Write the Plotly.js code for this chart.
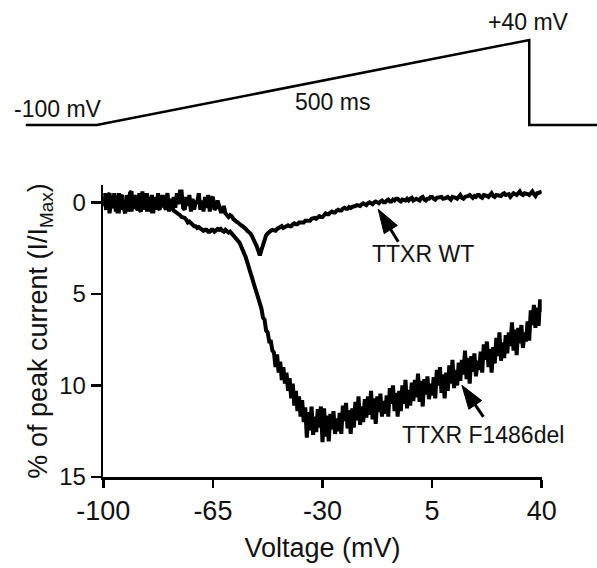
<!DOCTYPE html>
<html>
<head>
<meta charset="utf-8">
<script src="https://cdn.plot.ly/plotly-3.0.1.min.js"></script>
<style>html,body{margin:0;padding:0;background:#fff;}#chart{width:597px;height:568px;}</style>
</head>
<body>
<div id="chart"></div>
<script>
// Ramp protocol (time in ms, voltage in mV)
const protoTime = [-82, 0, 500, 500, 578.3];
const protoVoltage = [-100, -100, 40, -100, -100];

// Ramp voltage (mV) for the current traces, 0.5 mV steps
const voltage = [
-100,-99.5,-99,-98.5,-98,-97.5,-97,-96.5,-96,-95.5,
-95,-94.5,-94,-93.5,-93,-92.5,-92,-91.5,-91,-90.5,
-90,-89.5,-89,-88.5,-88,-87.5,-87,-86.5,-86,-85.5,
-85,-84.5,-84,-83.5,-83,-82.5,-82,-81.5,-81,-80.5,
-80,-79.5,-79,-78.5,-78,-77.5,-77,-76.5,-76,-75.5,
-75,-74.5,-74,-73.5,-73,-72.5,-72,-71.5,-71,-70.5,
-70,-69.5,-69,-68.5,-68,-67.5,-67,-66.5,-66,-65.5,
-65,-64.5,-64,-63.5,-63,-62.5,-62,-61.5,-61,-60.5,
-60,-59.5,-59,-58.5,-58,-57.5,-57,-56.5,-56,-55.5,
-55,-54.5,-54,-53.5,-53,-52.5,-52,-51.5,-51,-50.5,
-50,-49.5,-49,-48.5,-48,-47.5,-47,-46.5,-46,-45.5,
-45,-44.5,-44,-43.5,-43,-42.5,-42,-41.5,-41,-40.5,
-40,-39.5,-39,-38.5,-38,-37.5,-37,-36.5,-36,-35.5,
-35,-34.5,-34,-33.5,-33,-32.5,-32,-31.5,-31,-30.5,
-30,-29.5,-29,-28.5,-28,-27.5,-27,-26.5,-26,-25.5,
-25,-24.5,-24,-23.5,-23,-22.5,-22,-21.5,-21,-20.5,
-20,-19.5,-19,-18.5,-18,-17.5,-17,-16.5,-16,-15.5,
-15,-14.5,-14,-13.5,-13,-12.5,-12,-11.5,-11,-10.5,
-10,-9.5,-9,-8.5,-8,-7.5,-7,-6.5,-6,-5.5,
-5,-4.5,-4,-3.5,-3,-2.5,-2,-1.5,-1,-0.5,
0,0.5,1,1.5,2,2.5,3,3.5,4,4.5,
5,5.5,6,6.5,7,7.5,8,8.5,9,9.5,
10,10.5,11,11.5,12,12.5,13,13.5,14,14.5,
15,15.5,16,16.5,17,17.5,18,18.5,19,19.5,
20,20.5,21,21.5,22,22.5,23,23.5,24,24.5,
25,25.5,26,26.5,27,27.5,28,28.5,29,29.5,
30,30.5,31,31.5,32,32.5,33,33.5,34,34.5,
35,35.5,36,36.5,37,37.5,38,38.5,39,39.5,
40];

// TTXR WT, % of peak current (I/IMax)
const wtCurrent = [
0.2,-0.5,0.4,-0.3,0.6,-0.1,0.3,-0.5,0.5,-0.2,
-0.5,0.4,-0.1,0.3,0.6,-0.4,0.2,-0.3,0.5,0.0,
-0.4,0.3,0.4,-0.5,0.1,-0.6,0.4,-0.2,0.5,-0.3,
0.5,-0.4,0.2,-0.3,0.4,-0.5,0.3,0.0,-0.4,0.3,
0.0,-0.5,0.5,-0.2,0.4,-0.3,0.3,-0.5,0.1,-0.6,
-0.6,0.3,0.4,-0.3,0.2,-0.4,0.5,-0.2,0.4,0.0,
0.0,-0.5,0.4,-0.1,0.5,-0.3,0.3,-0.4,0.5,-0.2,
-0.3,0.4,0.3,-0.1,0.2,0.5,0.5,0.2,0.6,0.7,
0.8,0.7,0.75,0.9,1.0,1.05,1.1,1.2,1.25,1.3,
1.35,1.45,1.55,1.6,1.7,1.85,2.0,2.2,2.4,2.65,
2.9,2.6,2.3,2.0,1.8,1.7,1.6,1.55,1.5,1.55,
1.55,1.45,1.4,1.35,1.3,1.4,1.35,1.25,1.25,1.3,
1.3,1.2,1.15,1.2,1.2,1.1,1.1,1.15,1.1,1.0,
1.0,0.95,1.0,0.9,0.85,0.85,0.9,0.8,0.75,0.8,
0.8,0.7,0.6,0.65,0.65,0.55,0.5,0.55,0.55,0.45,
0.4,0.45,0.45,0.35,0.3,0.35,0.35,0.25,0.3,0.25,
0.25,0.2,0.15,0.2,0.2,0.1,0.05,0.1,0.15,0.05,
0.0,0.05,0.1,0.0,-0.05,0.0,0.05,-0.05,-0.1,0.0,
0.0,-0.1,-0.15,-0.05,-0.05,-0.15,-0.1,-0.2,-0.2,-0.1,
-0.05,-0.15,-0.15,-0.1,-0.2,-0.1,-0.2,-0.25,-0.1,-0.15,
-0.2,-0.15,-0.1,-0.25,-0.3,-0.15,-0.1,-0.2,-0.2,-0.3,
-0.3,-0.2,-0.15,-0.25,-0.25,-0.3,-0.3,-0.2,-0.2,-0.25,
-0.3,-0.2,-0.15,-0.3,-0.3,-0.25,-0.2,-0.35,-0.4,-0.25,
-0.2,-0.3,-0.3,-0.35,-0.4,-0.3,-0.25,-0.35,-0.3,-0.4,
-0.4,-0.3,-0.25,-0.4,-0.4,-0.35,-0.3,-0.45,-0.5,-0.35,
-0.3,-0.4,-0.4,-0.35,-0.35,-0.45,-0.5,-0.4,-0.4,-0.45,
-0.3,-0.45,-0.5,-0.45,-0.4,-0.5,-0.6,-0.45,-0.4,-0.5,
-0.5,-0.45,-0.4,-0.55,-0.6,-0.45,-0.35,-0.5,-0.5,-0.55,
-0.6];

// TTXR F1486del, % of peak current (I/IMax)
const mutCurrent = [
-0.3,0.2,0.4,-0.4,-0.5,0.1,0.3,-0.2,-0.1,0.5,
0.5,-0.3,-0.4,0.2,0.0,0.4,0.4,-0.5,-0.6,0.1,
0.3,-0.2,-0.3,0.4,0.5,-0.1,0.1,-0.4,-0.4,0.3,
0.3,0.5,0.5,-0.1,-0.2,0.3,0.4,-0.3,-0.3,0.2,
0.4,0.0,0.1,0.35,0.3,0.45,0.5,0.55,0.6,0.7,
0.8,0.8,0.85,0.95,1.1,1.05,1.15,1.25,1.3,1.3,
1.4,1.35,1.4,1.5,1.55,1.5,1.5,1.6,1.6,1.5,
1.5,1.6,1.55,1.45,1.5,1.45,1.55,1.6,1.5,1.6,
1.65,1.6,1.7,1.8,1.9,2.0,2.1,2.2,2.4,2.55,
2.8,3.0,3.3,3.5,3.8,4.1,4.4,4.6,4.9,5.2,
5.6,5.8,6.3,6.4,7.0,7.1,7.6,7.6,8.1,8.2,
9.0,8.3,9.3,8.7,9.7,9.0,9.9,9.3,10.3,9.6,
10.7,9.9,11.1,10.3,11.4,10.6,11.7,10.8,12.0,11.2,
12.85,11.45,12.45,11.15,12.7,11.7,12.55,11.3,12.3,11.15,
13.1,11.25,12.8,11.65,13.05,11.55,12.4,11.4,12.65,11.8,
12.5,11.5,12.65,11.1,11.95,10.95,12.35,11.35,12.65,11.25,
12.3,10.9,11.9,10.6,12.15,11.15,12.0,10.75,11.75,10.6,
11.6,10.3,11.85,10.7,12.1,10.6,11.45,10.45,11.7,10.85,
11.55,10.55,11.7,10.15,11.0,10.0,11.4,10.4,11.7,10.3,
11.4,10.0,11.0,9.7,11.25,10.25,11.1,9.85,10.85,9.7,
10.65,9.35,10.9,9.75,11.15,9.65,10.5,9.5,10.75,9.9,
10.55,9.55,10.7,9.15,10.0,9.0,10.4,9.4,10.7,9.3,
10.3,8.9,9.9,8.6,10.15,9.15,10.0,8.75,9.75,8.6,
9.4,8.1,9.65,8.5,9.9,8.4,9.25,8.25,9.5,8.65,
9.15,8.15,9.3,7.75,8.6,7.6,9.0,8.0,9.3,7.9,
8.8,7.4,8.4,7.1,8.65,7.65,8.5,7.25,8.25,7.1,
7.85,6.55,8.1,6.95,8.35,6.85,7.7,6.7,7.95,7.1,
7.6,6.5,7.55,5.9,6.7,5.6,6.85,5.75,6.75,5.3,
6.0];

// Label arrows: [tail, head] in (mV, % of peak)
const wtArrowV = [-5.8, -12.2];
const wtArrowI = [2.15, 0.38];
const mutArrowV = [21.4, 14.5];
const mutArrowI = [11.72, 9.99];

const xTicks = [-100, -65, -30, 5, 40];
const yTicks = [0, 5, 10, 15];

const FONT = 'Liberation Sans, Arial, sans-serif';
const INK = '#111';

function arrowTrace(xs, ys) {
  return {x: xs, y: ys, mode: 'lines+markers', hoverinfo: 'skip', showlegend: false,
    line: {color: '#000', width: 3},
    marker: {symbol: 'arrow', size: [0, 25], angleref: 'previous', color: '#000',
             opacity: 1, line: {width: 1, color: '#000'}}};
}

const traces = [
  {x: protoTime, y: protoVoltage, xaxis: 'x2', yaxis: 'y2', mode: 'lines',
   line: {color: '#000', width: 2.5}, hoverinfo: 'skip', showlegend: false},
  {x: voltage, y: mutCurrent, mode: 'lines', name: 'TTXR F1486del',
   line: {color: '#000', width: 4}, showlegend: false},
  {x: voltage, y: wtCurrent, mode: 'lines', name: 'TTXR WT',
   line: {color: '#000', width: 4}, showlegend: false},
  arrowTrace(wtArrowV, wtArrowI),
  arrowTrace(mutArrowV, mutArrowI)
];

const layout = {
  width: 597, height: 568,
  margin: {l: 0, r: 0, t: 0, b: 91, pad: 0},
  paper_bgcolor: '#fff', plot_bgcolor: 'rgba(0,0,0,0)',
  font: {family: FONT, color: INK},
  showlegend: false,
  xaxis: {
    domain: [0.1730, 0.9074], anchor: 'y', range: [-100, 40],
    tickmode: 'array', tickvals: xTicks, ticktext: xTicks.map(String),
    showline: true, linecolor: '#000', linewidth: 2.5,
    ticks: 'outside', ticklen: 8, tickwidth: 2.5, tickcolor: '#000',
    tickfont: {size: 27, family: FONT, color: INK},
    showgrid: false, zeroline: false, fixedrange: true,
    title: {text: 'Voltage (mV)', font: {size: 27, family: FONT, color: INK}, standoff: 13}
  },
  yaxis: {
    domain: [0, 0.6122], anchor: 'x', range: [15, -0.95],
    tickmode: 'array', tickvals: yTicks, ticktext: yTicks.map(String),
    showline: true, linecolor: '#000', linewidth: 2.5,
    ticks: 'outside', ticklen: 10, tickwidth: 2.5, tickcolor: '#000',
    tickfont: {size: 24, family: FONT, color: INK},
    showgrid: false, zeroline: false, fixedrange: true,
    title: {text: '% of peak current (I/I<sub>Max</sub>)', font: {size: 27, family: FONT, color: INK}, standoff: 4}
  },
  xaxis2: {domain: [0, 1], anchor: 'y2', range: [-111.8, 578.3], visible: false, fixedrange: true},
  yaxis2: {domain: [0.7, 1], anchor: 'x2', range: [-129.8, 105.9], visible: false, fixedrange: true},
  annotations: [
    {xref: 'x2', yref: 'y2', x: -44.4, y: -73.6, text: '-100 mV', showarrow: false,
     font: {size: 23, family: FONT, color: INK}},
    {xref: 'x2', yref: 'y2', x: 273.1, y: -61.6, text: '500 ms', showarrow: false,
     font: {size: 23, family: FONT, color: INK}},
    {xref: 'x2', yref: 'y2', x: 499.6, y: 70.2, text: '+40 mV', showarrow: false,
     font: {size: 23, family: FONT, color: INK}},
    {xref: 'x', yref: 'y', x: 1.95, y: 2.83, text: 'TTXR WT', showarrow: false,
     font: {size: 23, family: FONT, color: INK}},
    {xref: 'x', yref: 'y', x: 21.1, y: 12.72, text: 'TTXR F1486del', showarrow: false,
     font: {size: 23, family: FONT, color: INK}}
  ]
};

Plotly.newPlot('chart', traces, layout, {staticPlot: true, displayModeBar: false});
</script>
</body>
</html>
